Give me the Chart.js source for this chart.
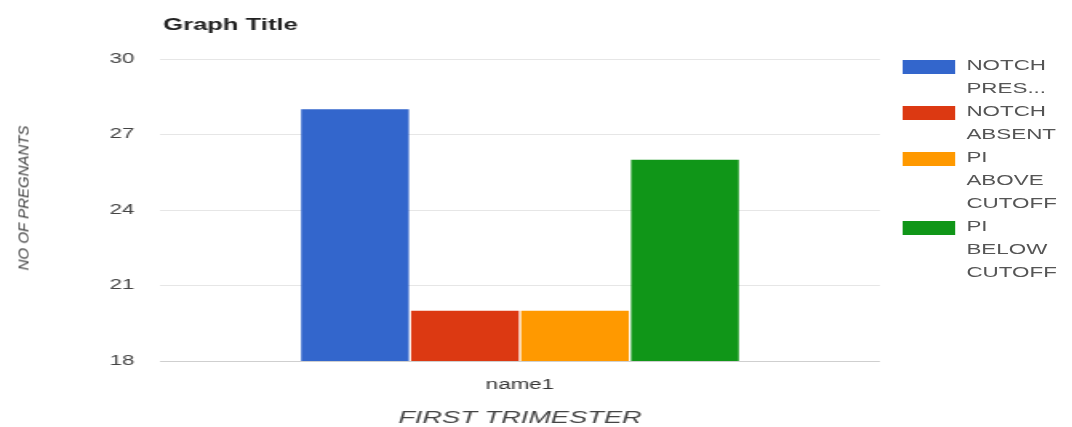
<!DOCTYPE html>
<html>
<head>
<meta charset="utf-8">
<script src="https://cdn.jsdelivr.net/npm/chart.js@4.4.0/dist/chart.umd.min.js"></script>
<style>
  html, body { margin: 0; padding: 0; background: #fff; overflow: hidden; }
  /* the reference is stretched sideways, so draw narrow and scale it out */
  #stage { position: absolute; left: 0; top: 0; width: 670px; height: 427px; transform: scaleX(1.6); transform-origin: 0 0; }
  #legend { position: absolute; left: 564px; top: 54px; font: 14px "Liberation Sans", Arial, sans-serif; color: #555; }
  .item { display: flex; align-items: flex-start; }
  .swatch { width: 33px; height: 14px; margin-top: 6px; margin-right: 7px; }
  .label { line-height: 23px; white-space: nowrap; }
  #ytitle { position: absolute; left: 23px; top: 198px; transform: translate(-50%, -50%) rotate(-90deg); white-space: nowrap;
            font: italic 15px "Liberation Sans", Arial, sans-serif; color: #444; }
</style>
</head>
<body>
<div id="stage">
  <canvas id="chart"></canvas>
  <div id="legend"></div>
</div>
<div id="ytitle"></div>
<script>
//Data
const categories = ["name1"];
const seriesNames = ["NOTCH PRES...", "NOTCH ABSENT", "PI ABOVE CUTOFF", "PI BELOW CUTOFF"];
const seriesValues = [[28], [20], [20], [26]];
const seriesColors = ["#3366cc", "#dc3912", "#ff9900", "#109618"];
const yTicks = [18, 21, 24, 27, 30];
const chartTitle = "Graph Title";
const xTitle = "FIRST TRIMESTER";
const yTitle = "NO OF PREGNANTS";

const font = '"Liberation Sans", Arial, sans-serif';

//Build the datasets from the arrays above
let datasets = seriesNames.map((name, i) => ({
  label: name,
  data: seriesValues[i],
  backgroundColor: seriesColors[i],
  barPercentage: 0.98,
  categoryPercentage: 0.611,
}));

//Small plugin for the title, left aligned with the plot area
const titlePlugin = {
  id: "leftTitle",
  afterDraw(chart) {
    const ctx = chart.ctx;
    ctx.save();
    ctx.font = "bold 16px " + font;
    ctx.fillStyle = "#222";
    ctx.textBaseline = "middle";
    ctx.textAlign = "left";
    ctx.fillText(chartTitle, chart.chartArea.left + 2, 26);
    ctx.restore();
  },
};

new Chart(document.getElementById("chart"), {
  type: "bar",
  data: { labels: categories, datasets: datasets },
  plugins: [titlePlugin],
  options: {
    responsive: true,
    maintainAspectRatio: false,
    animation: false,
    layout: { padding: { left: 0, right: 120, top: 59, bottom: 0 } },
    plugins: {
      legend: { display: false },
      tooltip: { enabled: false },
    },
    scales: {
      x: {
        grid: { display: false },
        border: { display: false },
        ticks: { color: "#333", font: { family: font, size: 14 }, padding: 8 },
        title: { display: true, text: xTitle, color: "#444", font: { family: font, size: 17, style: "italic", lineHeight: 1 }, padding: 0 },
        afterFit: (scale) => { scale.height = 66; },
      },
      y: {
        min: yTicks[0],
        max: yTicks[yTicks.length - 1],
        afterBuildTicks: (scale) => { scale.ticks = yTicks.map((v) => ({ value: v })); },
        grid: {
          drawTicks: false,
          color: (c) => (c.tick && c.tick.value === yTicks[0] ? "#cfcfcf" : "#e6e6e6"),
        },
        border: { display: false },
        ticks: { color: "#444", font: { family: font, size: 14 }, padding: 16 },
        afterFit: (scale) => { scale.width = 100; },
      },
    },
  },
});

//Legend with one word per line, as in the picture
const legend = document.getElementById("legend");
seriesNames.forEach((name, i) => {
  const item = document.createElement("div");
  item.className = "item";
  const sw = document.createElement("div");
  sw.className = "swatch";
  sw.style.background = seriesColors[i];
  const lab = document.createElement("div");
  lab.className = "label";
  lab.innerHTML = name.split(" ").join("<br>");
  item.appendChild(sw);
  item.appendChild(lab);
  legend.appendChild(item);
});

document.getElementById("ytitle").textContent = yTitle;
</script>
</body>
</html>
